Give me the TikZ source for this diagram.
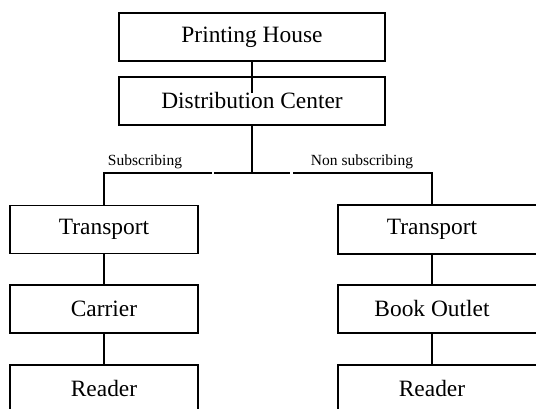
\documentclass[tikz,border=0pt]{standalone}
\usepackage{fontspec}
\setmainfont{Liberation Serif}
\begin{document}
\begin{tikzpicture}[x=1pt,y=1pt,
  conn/.style={line width=1.8pt},
  box/.style={draw, line width=1.8pt, minimum height=48pt, inner sep=0pt, font=\fontsize{23.4}{26}\selectfont},
  lbox/.style={box, minimum width=188pt},
  rtext/.style={minimum width=188pt, minimum height=48pt, inner sep=0pt, font=\fontsize{23.4}{26}\selectfont},
  lab/.style={font=\fontsize{15.5}{17}\selectfont, inner sep=0pt}]
\useasboundingbox (0,0) rectangle (536,409);
\clip (0,0) rectangle (536,409);
\fill[white] (0,0) rectangle (536,409);
% top boxes
\node[box, minimum width=266pt] (ph) at (252,372) {Printing House};
\node[box, minimum width=266pt] (dc) at (252,308) {Distribution Center};
% left column
\node[lbox] (lt) at (104,179.5) {Transport};
\node[lbox] (lc) at (104,100) {Carrier};
\node[lbox] (lr) at (104,20) {Reader};
% right column (boxes run past the right edge)
\node[rtext] (rt) at (432,179.5) {Transport};
\node[rtext] (rb) at (432,100) {Book Outlet};
\node[rtext] (rr) at (432,20) {Reader};
\foreach \n in {rt,rb,rr}
  \draw[line width=1.8pt] ([xshift=30pt]\n.north east) -- (\n.north west) -- (\n.south west) -- ([xshift=30pt]\n.south east);
% labels
\node[lab] (sub) at (145,247) {Subscribing};
\node[lab] (nsub) at (362,247) {Non subscribing};
% coordinates
\coordinate (dcin) at (252,316);
\coordinate (j) at (252,236);
\coordinate (g1) at (212,236);
\coordinate (g2) at (214,236);
\coordinate (g3) at (290,236);
\coordinate (g4) at (293,236);
% connectors
\draw[conn] (ph.south) -- (dcin);
\draw[conn] (dc.south) -- (j);
\draw[conn] (lt.north) |- (g1);
\draw[conn] (g2) -- (g3);
\draw[conn] (g4) -| (rt.north);
\draw[conn] (lt.south) -- (lc.north);
\draw[conn] (lc.south) -- (lr.north);
\draw[conn] (rt.south) -- (rb.north);
\draw[conn] (rb.south) -- (rr.north);
\end{tikzpicture}
\end{document}
